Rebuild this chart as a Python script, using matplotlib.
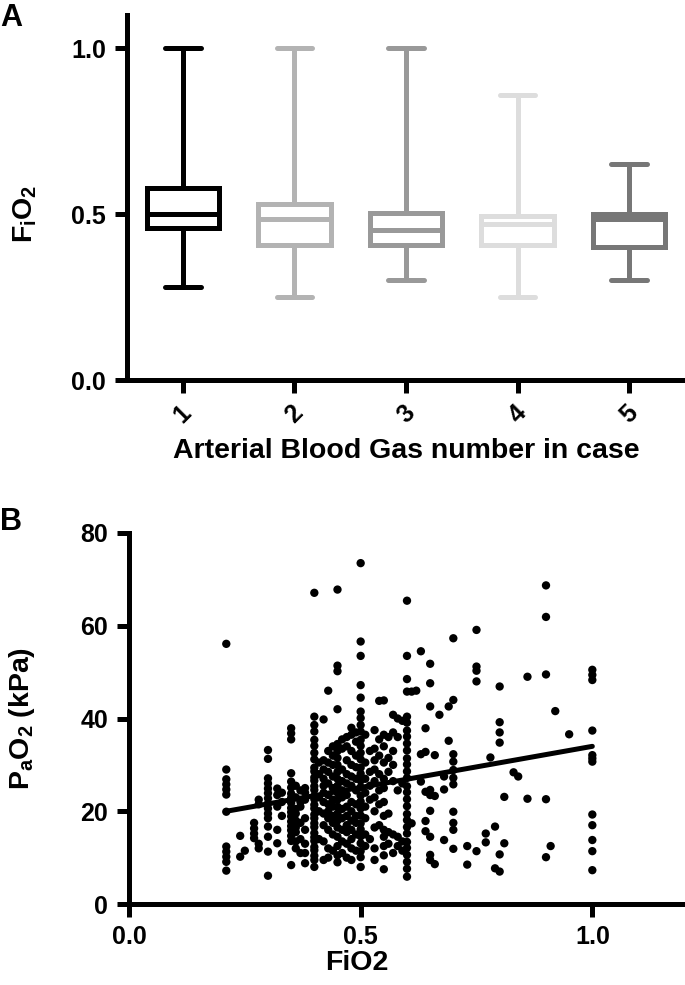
import matplotlib
matplotlib.use("Agg")
import matplotlib.pyplot as plt

plt.rcParams["font.family"] = ["Liberation Sans", "DejaVu Sans"]
plt.rcParams["font.weight"] = "bold"
plt.rcParams["mathtext.fontset"] = "custom"
plt.rcParams["mathtext.rm"] = "Liberation Sans:bold"
plt.rcParams["mathtext.it"] = "Liberation Sans:bold"
plt.rcParams["mathtext.bf"] = "Liberation Sans:bold"

# panel A: FiO2 per arterial blood gas number (box summaries)
ABG_LABELS = ["1", "2", "3", "4", "5"]
FIO2_MIN = [0.28, 0.25, 0.30, 0.25, 0.30]
FIO2_Q1 = [0.458, 0.408, 0.406, 0.408, 0.40]
FIO2_MED = [0.50, 0.486, 0.453, 0.471, 0.486]
FIO2_Q3 = [0.579, 0.53, 0.504, 0.495, 0.50]
FIO2_MAX = [1.0, 1.0, 1.0, 0.86, 0.65]
BOX_COLORS = ["#000000", "#b3b3b3", "#999999", "#dddddd", "#777777"]

FIO2_COLS = [0.21, 0.24, 0.25, 0.27, 0.28, 0.30, 0.32, 0.33, 0.35, 0.36,
             0.37, 0.38, 0.40, 0.41, 0.42, 0.43, 0.44, 0.45, 0.46, 0.47,
             0.48, 0.49, 0.50, 0.51, 0.52, 0.53, 0.54, 0.55, 0.56, 0.57,
             0.58, 0.59, 0.60, 0.61, 0.62, 0.63, 0.64, 0.65, 0.66, 0.67,
             0.68, 0.69, 0.70, 0.73, 0.75, 0.77, 0.78, 0.79, 0.80, 0.81,
             0.83, 0.84, 0.86, 0.90, 0.91, 0.92, 0.95, 1.00]
PAO2_COLS = [
    [56.1, 29.0, 26.9, 25.8, 24.7, 23.6, 19.9, 12.4, 11.3, 10.2, 9.1, 7.2],
    [14.7, 10.2],
    [11.5],
    [17.5, 16.3, 15.2, 14.2],
    [13.0, 12.0, 21.5, 22.5],
    [33.2, 31.3, 27.1, 26.0, 24.9, 23.9, 22.8, 21.7, 20.6, 19.5, 18.5, 16.7, 14.5, 11.3, 6.1],
    [24.9, 23.5, 21.0, 16.0, 13.1],
    [24.0, 22.0, 19.0, 10.9],
    [37.9, 36.8, 35.5, 28.2, 26.4, 25.1, 23.8, 22.9, 21.8, 20.7, 19.8, 18.9, 17.8, 16.8, 15.9, 14.7, 13.6, 8.4],
    [25.5, 23.0, 20.5, 19.5, 18.0, 16.5, 15.5, 13.5, 12.0],
    [24.5, 22.0, 21.0, 17.5, 14.0, 11.0],
    [25.0, 24.0, 22.5, 18.5, 16.0, 13.0, 11.0, 8.8],
    [67.1, 40.4, 38.6, 37.2, 35.4, 34.1, 32.6, 31.2, 29.4, 28.6, 27.3, 26.6, 25.4, 24.6, 23.3,
     22.6, 21.4, 20.6, 19.3, 18.5, 17.4, 16.6, 15.3, 14.4, 13.6, 12.3, 11.6, 10.4, 9.5, 8.0],
    [30.5, 28.0, 23.0, 20.0, 14.0],
    [39.8, 31.0, 29.0, 27.0, 25.5, 24.0, 22.0, 19.5, 17.0, 13.5, 9.5],
    [46.0, 33.0, 30.5, 28.5, 26.0, 23.5, 21.5, 20.0, 18.5, 16.0, 12.0, 10.0],
    [34.0, 32.0, 30.0, 27.5, 25.0, 22.5, 21.0, 19.0, 17.5, 15.0, 11.5],
    [67.8, 51.4, 50.2, 42.0, 34.5, 33.0, 31.5, 30.0, 28.5, 27.0, 25.5, 24.0, 22.5, 21.0,
     19.5, 18.0, 16.5, 14.5, 12.5, 10.5, 9.0],
    [35.5, 33.5, 29.0, 26.5, 24.5, 23.0, 20.5, 18.5, 16.0, 13.5, 11.0],
    [36.0, 34.0, 31.0, 28.0, 26.0, 23.5, 21.0, 19.0, 17.0, 15.5, 13.0, 10.0],
    [38.0, 36.5, 33.0, 30.0, 27.5, 25.5, 22.0, 20.0, 18.0, 16.0, 14.0, 12.0, 9.5],
    [37.0, 35.0, 32.0, 29.5, 27.0, 24.5, 21.5, 19.0, 17.5, 15.0, 11.5],
    [73.5, 56.6, 53.5, 47.2, 44.5, 41.5, 40.1, 38.6, 37.2, 35.4, 34.1, 32.6, 31.2, 29.4,
     28.1, 26.6, 25.2, 23.4, 22.1, 20.6, 19.1, 17.4, 16.1, 14.6, 13.1, 11.4, 10.1, 8.0],
    [36.5, 30.5, 27.0, 24.0, 21.0, 18.5, 15.0, 12.5],
    [33.0, 28.5, 25.5, 22.5, 14.0],
    [37.5, 33.5, 31.0, 29.0, 26.5, 23.0, 20.0, 16.5, 12.0, 9.5],
    [43.8, 35.5, 32.0, 28.0, 24.5, 21.5, 17.0],
    [43.9, 36.5, 34.0, 30.5, 27.0, 25.0, 22.0, 19.0, 16.0, 14.5, 12.5, 10.5, 7.5],
    [36.0, 31.5, 28.5, 19.5, 15.5, 13.0],
    [40.8, 37.0, 33.0, 30.0, 26.5, 15.0, 11.0],
    [40.0, 36.0, 24.5, 14.5, 12.5],
    [39.5, 26.0, 13.5, 11.5],
    [65.4, 53.5, 48.5, 45.8, 40.4, 39.1, 37.4, 36.1, 34.6, 33.1, 31.4, 30.1, 28.6, 27.2,
     25.4, 24.1, 22.6, 21.1, 19.4, 18.1, 16.6, 15.2, 13.4, 12.1, 10.6, 9.1, 7.6, 5.9],
    [45.8, 17.4],
    [46.0],
    [54.5, 32.3, 26.4],
    [37.9, 32.8, 24.2, 17.9, 15.7],
    [51.8, 47.6, 42.6, 24.6, 23.5, 20.1, 14.5, 10.6, 9.5],
    [32.1, 23.3, 8.6],
    [40.8],
    [27.5, 24.7, 13.8],
    [42.6, 35.2],
    [57.3, 44.0, 32.3, 30.7, 28.9, 27.2, 25.8, 19.9, 17.5, 16.0, 11.9],
    [12.5, 8.5],
    [59.1, 51.2, 50.3, 48.0, 11.4],
    [15.2, 13.3],
    [31.6],
    [16.7, 7.7],
    [46.9, 39.2, 37.0, 34.8, 10.7, 7.0],
    [23.1, 13.1],
    [28.4],
    [27.5],
    [49.0, 22.7],
    [68.7, 61.9, 49.5, 22.6, 10.1],
    [12.5],
    [41.6],
    [36.6],
    [50.5, 49.4, 48.3, 37.4, 32.1, 31.4, 30.7, 19.3, 17.0, 13.8, 11.4, 7.3],
]

# regression line endpoints as drawn in the figure
REG_FIO2 = [0.21, 1.0]
REG_PAO2 = [20.0, 34.0]

LW = 3.6
LABEL_FS = 20.5
TICK_FS = 18


def style_axes(ax):
    for side in ["top", "right"]:
        ax.spines[side].set_visible(False)
    for side in ["left", "bottom"]:
        ax.spines[side].set_linewidth(LW)
    ax.tick_params(width=LW, length=9, labelsize=TICK_FS, pad=6)
    for lab in ax.get_xticklabels() + ax.get_yticklabels():
        lab.set_fontweight("bold")


def main():
    fig = plt.figure(figsize=(6.85, 9.85), dpi=100)

    # ---- panel A ----
    ax1 = fig.add_axes([0.1854, 0.6142, 0.8146, 0.3706])
    stats = []
    for i in range(len(ABG_LABELS)):
        stats.append({"whislo": FIO2_MIN[i], "q1": FIO2_Q1[i], "med": FIO2_MED[i],
                      "q3": FIO2_Q3[i], "whishi": FIO2_MAX[i], "fliers": []})
    pos = list(range(1, len(ABG_LABELS) + 1))
    bp = ax1.bxp(stats, positions=pos, widths=0.65, capwidths=0.32,
                 showfliers=False, patch_artist=False)
    for i, c in enumerate(BOX_COLORS):
        bp["boxes"][i].set(color=c, linewidth=LW, solid_joinstyle="miter")
        bp["medians"][i].set(color=c, linewidth=LW)
        for w in bp["whiskers"][2 * i:2 * i + 2]:
            w.set(color=c, linewidth=LW)
        for cp in bp["caps"][2 * i:2 * i + 2]:
            cp.set(color=c, linewidth=LW, solid_capstyle="round")
    ax1.set_xlim(0.5, 5.5)
    ax1.set_ylim(0, 1.1)
    ax1.set_yticks([0.0, 0.5, 1.0])
    ax1.set_yticklabels(["0.0", "0.5", "1.0"])
    ax1.set_xticks(pos)
    ax1.set_xticklabels(ABG_LABELS, rotation=45, ha="center")
    style_axes(ax1)
    ax1.set_xlabel("Arterial Blood Gas number in case", fontsize=LABEL_FS, fontweight="bold")
    ax1.xaxis.set_label_coords(0.5, -0.16)
    ax1.set_ylabel(r"$F_iO_2$", fontsize=LABEL_FS)
    ax1.yaxis.set_label_coords(-0.158, 0.4545)
    fig.text(0.0, 0.997, "A", fontsize=22, fontweight="bold", va="top")

    # ---- panel B ----
    ax2 = fig.add_axes([0.1883, 0.0822, 0.8117, 0.3767])
    xs, ys = [], []
    for fx, col in zip(FIO2_COLS, PAO2_COLS):
        xs.extend([fx] * len(col))
        ys.extend(col)
    ax2.scatter(xs, ys, s=36, color="black", edgecolors="none", zorder=3)
    ax2.plot(REG_FIO2, REG_PAO2, color="black", linewidth=LW, solid_capstyle="round", zorder=4)
    ax2.set_xlim(0, 1.2)
    ax2.set_ylim(0, 80)
    ax2.set_xticks([0.0, 0.5, 1.0])
    ax2.set_xticklabels(["0.0", "0.5", "1.0"])
    ax2.set_yticks([0, 20, 40, 60, 80])
    style_axes(ax2)
    ax2.set_xlabel("FiO2", fontsize=LABEL_FS, fontweight="bold")
    ax2.xaxis.set_label_coords(0.41, -0.125)
    ax2.set_ylabel(r"$P_aO_2$ (kPa)", fontsize=LABEL_FS, fontweight="bold")
    ax2.yaxis.set_label_coords(-0.165, 0.5)
    fig.text(0.0, 0.485, "B", fontsize=22, fontweight="bold", va="top")

    fig.savefig("out.png", dpi=100)


if __name__ == "__main__":
    main()
